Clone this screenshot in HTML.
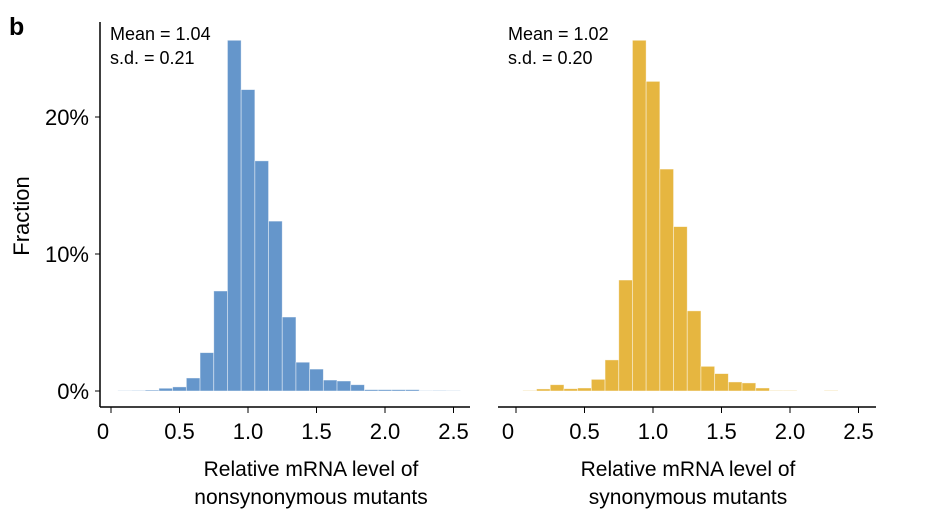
<!DOCTYPE html>
<html><head><meta charset="utf-8"><style>
body{margin:0;background:#fff;}
svg{display:block;font-family:"Liberation Sans",sans-serif;}
</style></head><body>
<svg id="chart" width="926" height="524">
<text x="9" y="35" font-size="25" font-weight="bold">b</text>
<text transform="translate(29,216) rotate(-90)" text-anchor="middle" font-size="22">Fraction</text>
<g id="left"></g>
<g id="right"></g>
</svg>
<script>
const binCenters=[0.1,0.2,0.3,0.4,0.5,0.6,0.7,0.8,0.9,1.0,1.1,1.2,1.3,1.4,1.5,1.6,1.7,1.8,1.9,2.0,2.1,2.2,2.3,2.4,2.5];
const nonsynValues=[0.02,0.03,0.07,0.2,0.3,0.95,2.8,7.3,25.6,22.0,16.8,12.4,5.4,2.1,1.6,0.8,0.73,0.46,0.1,0.1,0.1,0.1,0.02,0.03,0.02];
const synValues=[0.03,0.15,0.46,0.17,0.22,0.85,2.27,8.1,25.6,22.6,16.2,12.0,5.85,1.8,1.27,0.66,0.59,0.22,0.03,0.03,0,0,0.03,0,0];
const xTicks=[0,0.5,1.0,1.5,2.0,2.5];
const xTickLabels=["0","0.5","1.0","1.5","2.0","2.5"];
const yTicks=[0,10,20];
const yTickLabels=["0%","10%","20%"];
const binWidth=0.1;
const NS="http://www.w3.org/2000/svg";
function mk(parent,tag,attrs,text){const e=document.createElementNS(NS,tag);for(const k in attrs)e.setAttribute(k,attrs[k]);if(text!==undefined)e.textContent=text;parent.appendChild(e);return e;}
const yScale=v=>391-v*13.7;
function panel(gid,x0,values,color,showY,axisX1,axisX2,mean,sd,l1,l2,cx){
  const g=document.getElementById(gid);
  const xs=v=>x0+v*137;
  binCenters.forEach((c,i)=>{
    if(values[i]<=0)return;
    const r=mk(g,'rect',{x:xs(c-binWidth/2),y:yScale(values[i]),width:binWidth*137,height:yScale(0)-yScale(values[i]),fill:color,stroke:'rgba(255,255,255,0.55)','stroke-width':0.8});
    
    
  });
  const ax=mk(g,'line',{x1:axisX1,y1:407,x2:axisX2,y2:407,stroke:'#000','stroke-width':1.5});
  
  
  xTicks.forEach((t,i)=>{
    mk(g,'line',{x1:xs(t),y1:407,x2:xs(t),y2:413,stroke:'#000','stroke-width':1});
    const lx=i===0?xs(t)-8:xs(t);
    const tl=mk(g,'text',{x:lx,y:439,'text-anchor':'middle','font-size':22},xTickLabels[i]);
    
    
  });
  if(showY){
    const ya=mk(g,'line',{x1:100,y1:22,x2:100,y2:407,stroke:'#000','stroke-width':1.5});
    
    
    yTicks.forEach((t,i)=>{
      mk(g,'line',{x1:95,y1:yScale(t),x2:100,y2:yScale(t),stroke:'#000','stroke-width':1});
      const yl=mk(g,'text',{x:89,y:yScale(t)+8,'text-anchor':'end','font-size':22},yTickLabels[i]);
      
      
    });
  }
  const tx=axisX1+10;
  const m=mk(g,'text',{x:tx,y:40,'font-size':18},mean);
  
  
  const s=mk(g,'text',{x:tx,y:64,'font-size':18},sd);
  
  
  const t1=mk(g,'text',{x:cx,y:476,'text-anchor':'middle','font-size':21},l1);
  
  
  const t2=mk(g,'text',{x:cx,y:504,'text-anchor':'middle','font-size':21},l2);
  
  
}
panel('left',111,nonsynValues,'#6596cb',true,100,470,'Mean = 1.04','s.d. = 0.21','Relative mRNA level of','nonsynonymous mutants',311);
panel('right',516,synValues,'#e6b640',false,498,876,'Mean = 1.02','s.d. = 0.20','Relative mRNA level of','synonymous mutants',688);
</script>
</body></html>
